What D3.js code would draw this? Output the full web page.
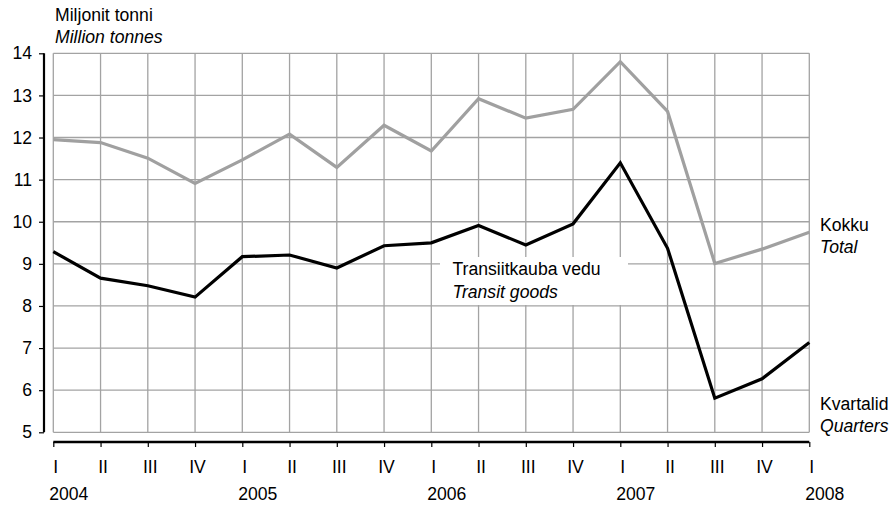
<!DOCTYPE html>
<html>
<head>
<meta charset="utf-8">
<script src="https://cdn.jsdelivr.net/npm/d3@7/dist/d3.min.js"></script>
<style>
  html, body { margin: 0; padding: 0; background: #fff; }
  svg { display: block; font-family: "Liberation Sans", Arial, sans-serif; }
</style>
</head>
<body>
<svg id="chart" width="896" height="507"></svg>
<script>
// Quarterly freight volumes, million tonnes, 2004 Q1 – 2008 Q1
const quarterLabels = ["I","II","III","IV","I","II","III","IV","I","II","III","IV","I","II","III","IV","I"];
const yearLabels = [
  { index: 0, label: "2004" },
  { index: 4, label: "2005" },
  { index: 8, label: "2006" },
  { index: 12, label: "2007" },
  { index: 16, label: "2008" }
];
const totalValues = [11.95, 11.88, 11.51, 10.91, 11.47, 12.08, 11.29, 12.29, 11.68, 12.92, 12.46, 12.67, 13.80, 12.62, 9.01, 9.35, 9.75];
const transitValues = [9.29, 8.66, 8.48, 8.21, 9.17, 9.21, 8.90, 9.43, 9.50, 9.91, 9.45, 9.95, 11.40, 9.37, 5.81, 6.27, 7.13];
const yTicks = [5, 6, 7, 8, 9, 10, 11, 12, 13, 14];

const FONT_SIZE = 17.6;
const svg = d3.select("#chart");
const plot = { left: 53.3, right: 809.3, top: 53.3, bottom: 432.3 };

const x = d3.scaleLinear().domain([0, quarterLabels.length - 1]).range([plot.left, plot.right]);
const y = d3.scaleLinear().domain([5, 14]).range([plot.bottom, plot.top]);

const gridColor = "#a3a3a3";

// grid
const grid = svg.append("g");
grid.selectAll("line.h").data(yTicks).join("line")
  .attr("x1", plot.left).attr("x2", plot.right)
  .attr("y1", d => y(d)).attr("y2", d => y(d))
  .attr("stroke", gridColor).attr("stroke-width", 1.3);
grid.selectAll("line.v").data(d3.range(quarterLabels.length)).join("line")
  .attr("x1", d => x(d)).attr("x2", d => x(d))
  .attr("y1", plot.top).attr("y2", plot.bottom)
  .attr("stroke", gridColor).attr("stroke-width", 1.3);

// y axis (offset left of the plot)
const yAxis = svg.append("g").attr("transform", "translate(44,0)")
  .call(d3.axisLeft(y).tickValues(yTicks).tickSize(5).tickPadding(7).tickFormat(d3.format("d")));
yAxis.select(".domain").attr("stroke", "#000").attr("stroke-width", 2.2)
  .attr("d", `M0,${y(14)}V${y(5)}`);
yAxis.selectAll(".tick line").attr("stroke", "#000").attr("stroke-width", 1.2);
yAxis.selectAll(".tick text").attr("font-size", FONT_SIZE).attr("fill", "#000")
  .attr("font-family", "'Liberation Sans', Arial, sans-serif");

// x axis (offset below the plot)
const xAxis = svg.append("g").attr("transform", "translate(0,442)")
  .call(d3.axisBottom(x).tickValues(d3.range(quarterLabels.length)).tickSize(5)
    .tickFormat(() => ""));
xAxis.select(".domain").attr("stroke", "#000").attr("stroke-width", 2.6)
  .attr("d", `M${plot.left},0H${plot.right}`);
xAxis.selectAll(".tick line").attr("stroke", "#000").attr("stroke-width", 1.2);

// quarter and year labels
svg.append("g").selectAll("text").data(quarterLabels).join("text")
  .attr("x", (d, i) => x(i) + 2.5).attr("y", 473)
  .attr("text-anchor", "middle").attr("font-size", FONT_SIZE).attr("fill", "#000")
  .text(d => d);
svg.append("g").selectAll("text").data(yearLabels).join("text")
  .attr("x", d => x(d.index) + 15.5).attr("y", 500)
  .attr("text-anchor", "middle").attr("font-size", FONT_SIZE).attr("fill", "#000")
  .text(d => d.label);

// series lines
const line = d3.line().x((d, i) => x(i)).y(d => y(d));
svg.append("path").datum(totalValues).attr("d", line)
  .attr("fill", "none").attr("stroke", "#a0a0a0").attr("stroke-width", 3.2)
  .attr("stroke-linejoin", "miter");

// transit label box sits over the grid but under the transit line
svg.append("rect").attr("x", 440).attr("y", 257).attr("width", 188).attr("height", 48)
  .attr("fill", "#fff");

svg.append("path").datum(transitValues).attr("d", line)
  .attr("fill", "none").attr("stroke", "#000").attr("stroke-width", 3.2)
  .attr("stroke-linejoin", "miter");

// text annotations
function twoLine(xPos, yPos, first, second) {
  const g = svg.append("g").attr("font-size", FONT_SIZE).attr("fill", "#000");
  g.append("text").attr("x", xPos).attr("y", yPos).text(first);
  g.append("text").attr("x", xPos).attr("y", yPos + 22.5).attr("font-style", "italic").text(second);
}
twoLine(55, 20.5, "Miljonit tonni", "Million tonnes");
twoLine(452.5, 275, "Transiitkauba vedu", "Transit goods");
twoLine(820, 230.5, "Kokku", "Total");
twoLine(820, 409.5, "Kvartalid", "Quarters");
</script>
</body>
</html>
